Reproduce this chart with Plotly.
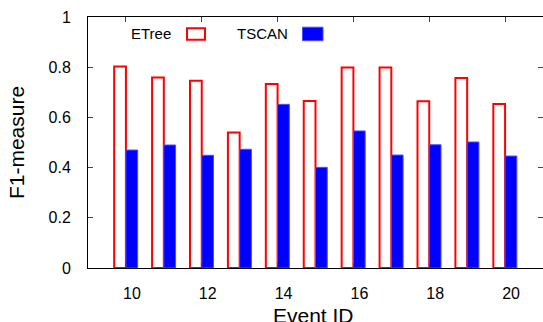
import plotly.graph_objects as go

event_ids = [10, 11, 12, 13, 14, 15, 16, 17, 18, 19, 20]
etree = [0.803, 0.759, 0.746, 0.540, 0.733, 0.665, 0.799, 0.799, 0.664, 0.757, 0.653]
tscan = [0.470, 0.490, 0.449, 0.473, 0.652, 0.401, 0.546, 0.450, 0.491, 0.502, 0.446]
x_ticks = [10, 12, 14, 16, 18, 20]
y_ticks = [0, 0.2, 0.4, 0.6, 0.8, 1]

FONT = "Liberation Sans, Arial, sans-serif"

fig = go.Figure()
fig.add_trace(go.Bar(x=event_ids, y=etree, name="ETree",
                     marker=dict(color="white", line=dict(color="#ff0000", width=2))))
fig.add_trace(go.Bar(x=event_ids, y=tscan, name="TSCAN",
                     marker=dict(color="#0000ff", line=dict(color="#4d4dff", width=1))))

fig.update_layout(
    width=543, height=322,
    margin=dict(l=88, r=0, t=17, b=54, autoexpand=False),
    paper_bgcolor="white", plot_bgcolor="white",
    barmode="group", bargap=0.38, bargroupgap=0,
    showlegend=False,
    font=dict(family=FONT, size=16, color="black"),
)
fig.update_xaxes(
    range=[9, 21], tickvals=x_ticks, ticktext=[str(v) for v in x_ticks],
    ticks="inside", ticklen=5, tickcolor="#444", showline=True, linecolor="black",
    linewidth=1, mirror="ticks", showgrid=False, zeroline=False, automargin=False,
    ticklabelstandoff=11, ticklabelshift=6,
)
fig.update_yaxes(
    range=[0, 1], tickvals=y_ticks, ticktext=[f"{v:g}" for v in y_ticks],
    ticks="inside", ticklen=5, tickcolor="#444", showline=True, linecolor="black",
    linewidth=1, mirror="ticks", showgrid=False, zeroline=False, automargin=False,
    ticklabelstandoff=13,
    title=dict(text="F1-measure", font=dict(size=21), standoff=18),
)

px = lambda v: (v - 88) / 455
py = lambda v: (268.3 - v) / 251

# x-axis title, placed just under the tick labels (cut by the bottom edge as in the original)
fig.add_annotation(text="Event ID", xref="paper", yref="paper", x=px(313), y=py(302),
                   xanchor="center", yanchor="top", showarrow=False, font=dict(size=21))

# gnuplot-style key: label followed by sample box
fig.add_annotation(text="ETree", xref="paper", yref="paper", x=px(173), y=py(34),
                   xanchor="right", yanchor="middle", showarrow=False, font=dict(size=15))
fig.add_annotation(text="TSCAN", xref="paper", yref="paper", x=px(290), y=py(34),
                   xanchor="right", yanchor="middle", showarrow=False, font=dict(size=15))
fig.add_shape(type="rect", xref="paper", yref="paper", x0=px(187), x1=px(205), y0=py(40), y1=py(28.5),
              fillcolor="white", line=dict(color="#ff0000", width=2))
fig.add_shape(type="rect", xref="paper", yref="paper", x0=px(302.5), x1=px(323), y0=py(41), y1=py(27.5),
              fillcolor="#0000ff", line=dict(color="#4d4dff", width=1))

fig.write_html("out.html", config={"displayModeBar": False},
               post_script="document.body.style.margin='0px';document.body.style.overflow='hidden';")
